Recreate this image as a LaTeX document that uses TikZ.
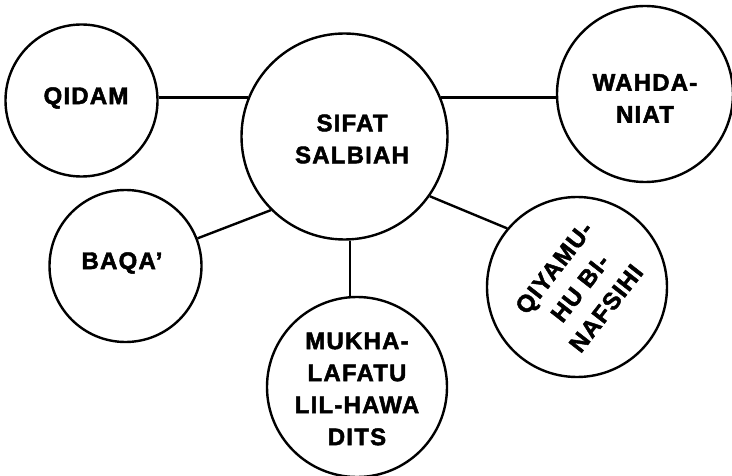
\documentclass[tikz,border=0pt]{standalone}
\usepackage{fontspec}
\setmainfont{Liberation Sans}
% heavy, slightly tracked caps for the bubble labels
\newfontfamily\labelfont[LetterSpace=5,FakeBold=2]{Liberation Sans Bold}
\begin{document}
\begin{tikzpicture}[x=1pt,y=-1pt,
  bubble/.style={circle,draw=black,line width=2.4pt,inner sep=0pt,minimum size=#1},
  link/.style={line width=2.4pt},
  lbl/.style={font=\fontsize{24}{32}\selectfont\labelfont,align=center,inner sep=0pt}]
\useasboundingbox (0,0) rectangle (732,476);

% circles
\node[bubble=206pt] (pusat)  at (344.5,136.5) {};
\node[bubble=152pt] (qidam)  at (81.5,100.5)  {};
\node[bubble=176pt] (wahda)  at (645,94)      {};
\node[bubble=152pt] (baqa)   at (125.5,266)   {};
\node[bubble=180pt] (qiyamu) at (577,287)     {};
\node[bubble=180pt] (mukha)  at (357,387)     {};

% labels
\node[lbl] (tpusat)  at (352,139)   {SIFAT\\SALBIAH};
\node[lbl] (tqidam)  at (86,98)     {QIDAM};
\node[lbl] (twahda)  at (645,98.5)  {WAHDA-\\NIAT};
\node[lbl] (tbaqa)   at (122,263)   {BAQA’};
\node[lbl] (tmukha)  at (357,389)   {MUKHA-\\LAFATU\\LIL-HAWA\\DITS};
\node[lbl,rotate=52,font=\fontsize{24}{33}\selectfont\labelfont] (tqiyamu) at (580,288) {QIYAMU-\\HU BI-\\NAFSIHI};

% connectors
\draw[link] (pusat.158.6) -- (pusat.158.6 -| qidam.east);
\draw[link] (pusat.22.5) -- (pusat.22.5 -| wahda.west);
\draw[link] (pusat.225) -- (baqa.21);
\draw[link] (pusat.-35) -- (qiyamu.140);
\draw[link] (pusat.-87) -- (pusat.-87 |- mukha.north);
\end{tikzpicture}
\end{document}
